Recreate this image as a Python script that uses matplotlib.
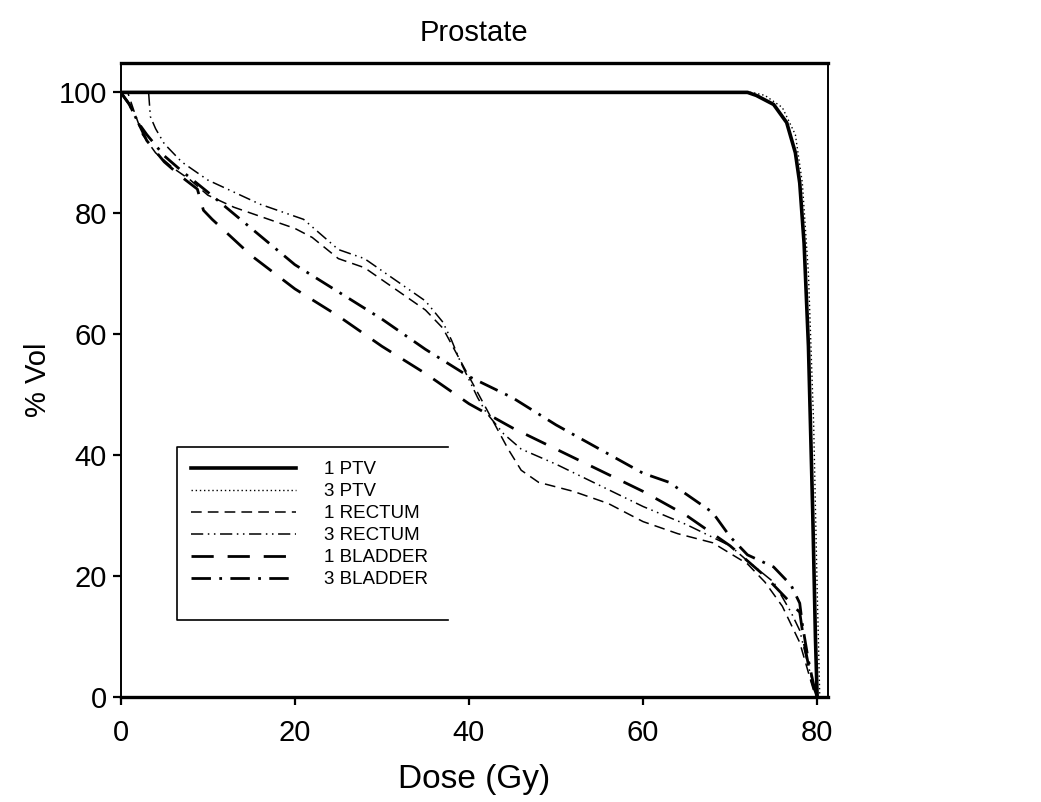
import numpy as np
import matplotlib
matplotlib.use("Agg")
import matplotlib.pyplot as plt

plt.rcParams['font.family'] = ['Liberation Sans', 'DejaVu Sans']

# --- data (dose in Gy, % volume) ---
ptv1_dose = [0, 72, 73, 75, 76.5, 77.5, 78, 78.5, 79, 79.5, 79.8, 80]
ptv1_vol = [100, 100, 99.5, 98, 95, 90, 85, 75, 58, 30, 10, 0]

ptv3_dose = [0, 72.5, 74, 76, 77.5, 78.3, 79, 79.6, 80, 80.3]
ptv3_vol = [100, 100, 99.5, 97.5, 93, 85, 70, 45, 18, 0]

rect1_dose = [0, 0.8, 1.5, 2.5, 4, 6, 8, 10, 13, 16, 20, 22, 25, 28, 31, 35, 37,
              38.5, 40, 41.5, 43, 44.5, 46, 48, 52, 56, 60, 64, 68, 72, 74, 76,
              78, 79, 79.8]
rect1_vol = [100, 100, 97, 93, 90, 87.5, 85.5, 83, 81, 79.5, 77.5, 76, 72.5, 71,
             68, 64, 61, 57, 53, 49, 45, 41, 37.5, 35.5, 34, 32, 29, 27, 25.5,
             22, 19, 15, 9, 4, 0]

rect3_dose = [0, 3.2, 3.4, 4, 5, 7, 10, 13, 16, 20, 21, 23, 25, 28, 31, 35, 37,
              38, 39, 40, 41, 42, 44, 46, 50, 55, 60, 65, 70, 72, 75, 77, 78,
              79, 80]
rect3_vol = [100, 100, 96, 94, 91.5, 88.5, 85.5, 83.5, 81.5, 79.5, 79, 76.5, 74,
             72.5, 69.5, 65.5, 62, 59, 55.5, 52.5, 49.5, 47, 43.5, 41, 38.5, 35,
             31.5, 28.5, 25, 22.5, 19, 14, 11, 5, 0]

blad1_dose = [0, 1, 2, 3, 5, 7, 8.8, 9.5, 10.5, 15, 20, 25, 30, 35, 40, 45, 50,
              55, 60, 65, 68, 70, 72, 74, 76, 78, 78.5, 79.3, 80]
blad1_vol = [100, 98, 95, 92, 88.5, 86, 84, 80.5, 79, 73, 67.5, 63, 58, 53.5,
             48.5, 44.5, 41, 37.5, 34, 30, 27, 25, 22.5, 20, 17, 14, 9, 3, 0]

blad3_dose = [0, 1, 2, 3, 5, 7, 10, 15, 20, 25, 30, 35, 40, 45, 50, 55, 60, 63,
              66, 68, 70, 72, 75, 77, 78, 78.3, 79, 79.6, 80]
blad3_vol = [100, 98, 95, 93, 89.5, 87, 83.5, 77.5, 71.5, 67, 62.5, 57.5, 53,
             49.5, 45, 41, 37, 35.5, 32.5, 30.5, 26.5, 23.5, 21.5, 18.5, 15.5,
             12, 6, 2, 0]

labels = ['1 PTV', '3 PTV', '1 RECTUM', '3 RECTUM', '1 BLADDER', '3 BLADDER']

fig = plt.figure(figsize=(10.41, 8.02), dpi=100)
ax = fig.add_axes([0.116, 0.131, 0.679, 0.790])

ax.plot(ptv1_dose, ptv1_vol, color='black', lw=2.6, ls='-', label=labels[0])
ax.plot(ptv3_dose, ptv3_vol, color='black', lw=1.0, ls=(0, (1, 2)), label=labels[1])
ax.plot(rect1_dose, rect1_vol, color='black', lw=1.1, ls=(0, (7, 4)), label=labels[2])
ax.plot(rect3_dose, rect3_vol, color='black', lw=1.1, ls=(0, (8, 3, 1, 3, 1, 3)),
        label=labels[3])
ax.plot(blad1_dose, blad1_vol, color='black', lw=2.0, ls=(0, (8, 5)), label=labels[4])
ax.plot(blad3_dose, blad3_vol, color='black', lw=2.0, ls=(0, (7, 3, 1, 3)),
        label=labels[5])

ax.set_xlim(0, 81.2)
ax.set_ylim(0, 104.8)
ax.set_xticks([0, 20, 40, 60, 80])
ax.set_yticks([0, 20, 40, 60, 80, 100])
ax.tick_params(direction='out', length=6, width=1.6, labelsize=21)
ax.tick_params(axis='x', pad=10)
ax.tick_params(axis='y', pad=4)
for side in ['top', 'bottom']:
    ax.spines[side].set_linewidth(2.4)
for side in ['left', 'right']:
    ax.spines[side].set_linewidth(1.4)

ax.set_title('Prostate', fontsize=21, pad=16)
ax.set_xlabel('Dose (Gy)', fontsize=24, labelpad=12)
ax.set_ylabel('% Vol', fontsize=21, labelpad=5)

leg = ax.legend(loc='upper left', bbox_to_anchor=(0.079, 0.394), frameon=False,
                fontsize=13.5, handlelength=5.6, handletextpad=1.5,
                labelspacing=0.26, borderpad=0.75, borderaxespad=0)

# legend box: left, top and bottom edges only, as in the reference
bx0, bx1, by0, by1 = 0.079, 0.463, 0.121, 0.394
ax.plot([bx1, bx0, bx0, bx1], [by1, by1, by0, by0], color='black', lw=1.2,
        transform=ax.transAxes, clip_on=False)

fig.savefig('out.png', dpi=100)
